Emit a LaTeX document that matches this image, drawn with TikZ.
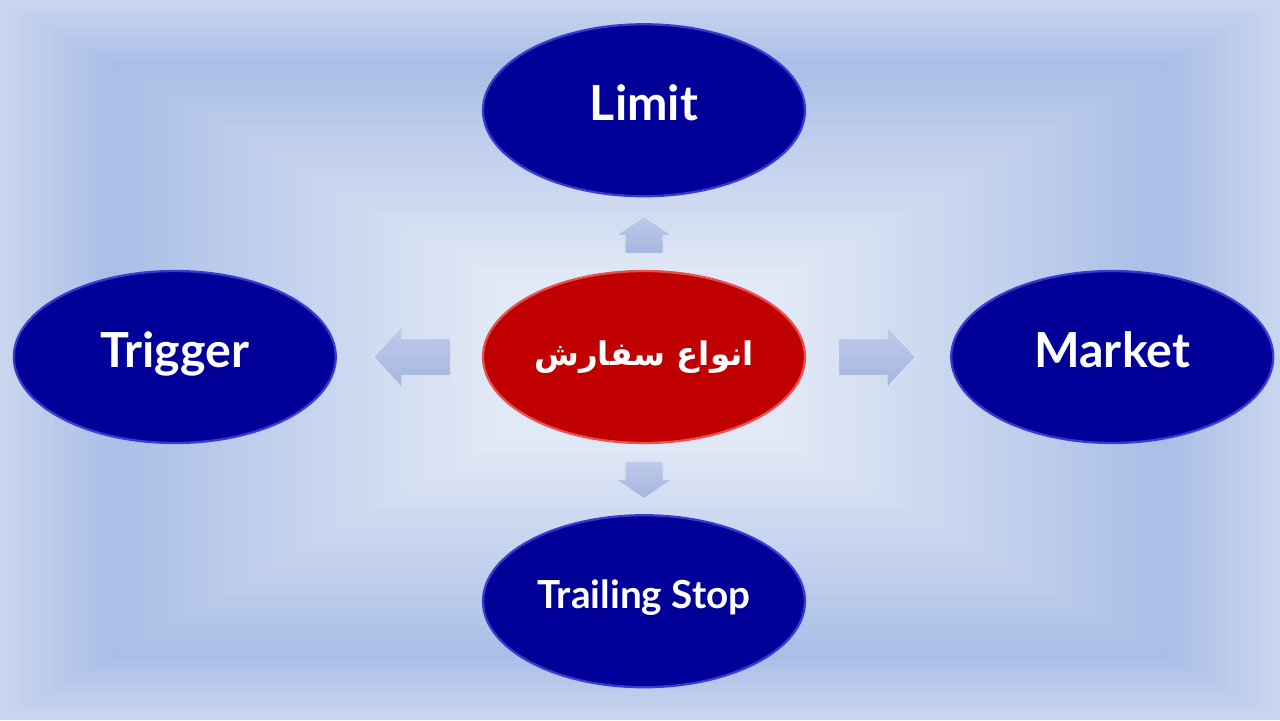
\documentclass[tikz,border=0pt]{standalone}
\usepackage{fontspec}
\setmainfont{Lato}
\newfontfamily\persianfont[Script=Arabic]{DejaVu Sans}
\TeXXeTstate=1
\usetikzlibrary{positioning,calc}
\usetikzlibrary{shapes.geometric}
\usetikzlibrary{shapes.arrows}
\definecolor{bgedge}{HTML}{C8D5EE}
\definecolor{bgdark}{HTML}{AABEE6}
\definecolor{bglight}{HTML}{E2E9F6}
\definecolor{itemblue}{HTML}{000099}
\definecolor{itemrim}{HTML}{3A3AD2}
\definecolor{hubred}{HTML}{C00000}
\definecolor{hubrim}{HTML}{E85050}
\definecolor{arrowtop}{HTML}{BECAEA}
\definecolor{arrowbottom}{HTML}{A5B5DE}
\definecolor{arrowrim}{HTML}{D8E0F3}
\tikzset{
  bubble/.style={ellipse, minimum width=6.44cm, minimum height=3.44cm,
    inner xsep=-1.5cm, inner ysep=-0.5cm, line width=1.3pt, text=white},
  item/.style={bubble, fill=itemblue, draw=itemrim, text depth=0.3cm,
    font=\bfseries\fontsize{27.5}{32}\selectfont},
  hub/.style={bubble, fill=hubred, draw=hubrim,
    font=\persianfont\bfseries\fontsize{18.5}{24}\selectfont},
  blockarrow/.style={single arrow, anchor=tail, inner xsep=0pt, inner ysep=0.36cm,
    minimum height=1.54cm, single arrow head extend=0.24cm, single arrow tip angle=94,
    top color=arrowtop, bottom color=arrowbottom, draw=arrowrim, line width=0.6pt},
  shortarrow/.style={blockarrow, inner ysep=0.37cm, minimum height=0.74cm,
    single arrow head extend=0.19cm, single arrow tip angle=112}
}

\begin{document}
\begin{tikzpicture}[x=0.02cm, y=-0.02cm]
    \useasboundingbox (0,0) rectangle (1280,720);

    % background, framed gradient
    \foreach \i in {0,...,10} {
        \pgfmathsetmacro\t{\i/60}
        \pgfmathtruncatemacro\p{\i*10}
        \fill[bgdark!\p!bgedge] (640*\t,360*\t) rectangle (1280-640*\t,720-360*\t);
    }
    \foreach \i in {1,...,30} {
        \pgfmathsetmacro\t{1/6+\i*0.02}
        \pgfmathtruncatemacro\p{\i*100/30}
        \fill[bglight!\p!bgdark] (640*\t,360*\t) rectangle (1280-640*\t,720-360*\t);
    }

    \node[hub] (hub) at (644,357) {\beginR انواع سفارش\endR};
    \node[item, above=1.45cm of hub] (limit) {Limit};
    \node[item, right=2.88cm of hub] (market) {Market};
    \node[item, below=1.4cm of hub, font=\bfseries\fontsize{22}{26}\selectfont] (trailing) {Trailing Stop};
    \node[item, left=2.9cm of hub] (trigger) {Trigger};

    \node[shortarrow, rotate=90] (tolimit) at ($(hub.north)+(0,-16)$) {};
    \node[blockarrow] (tomarket) at ($(hub.east)+(32,0)$) {};
    \node[shortarrow, rotate=-90] (totrailing) at ($(hub.south)+(0,17)$) {};
    \node[blockarrow, rotate=180] (totrigger) at ($(hub.west)+(-31,0)$) {};
\end{tikzpicture}
\end{document}
